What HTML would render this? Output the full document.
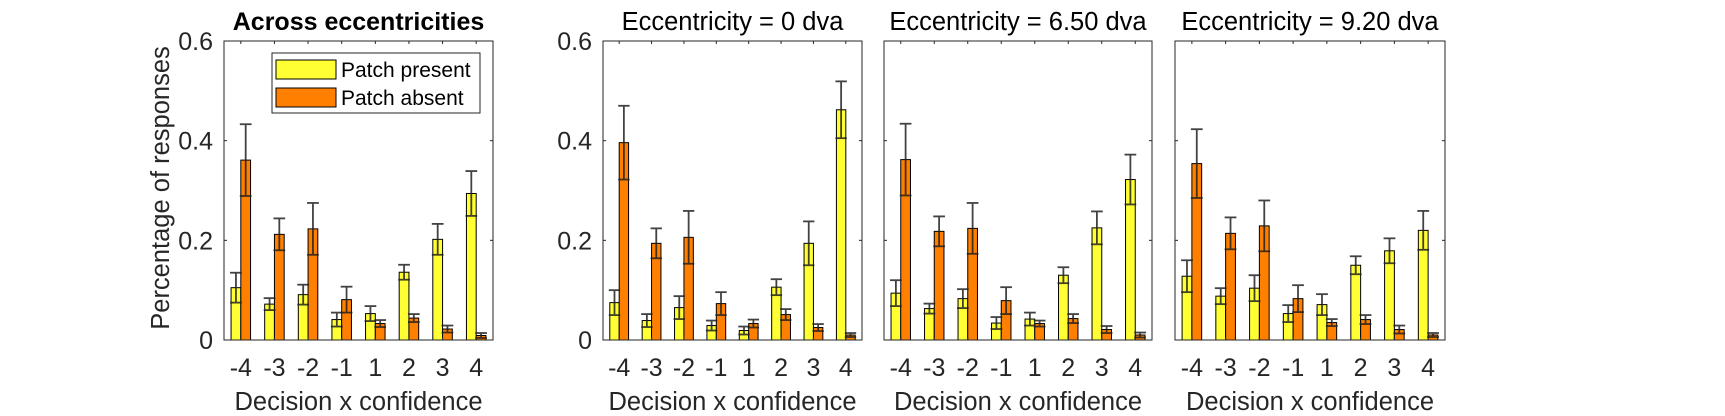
<!DOCTYPE html>
<html><head><meta charset="utf-8"><style>
html,body{margin:0;padding:0;background:#fff}
svg{display:block;font-family:"Liberation Sans",Arial,sans-serif}
</style></head><body>
<svg id="chart" width="1725" height="416" viewBox="0 0 1725 416" xmlns="http://www.w3.org/2000/svg"></svg>
<script>
const categories = ["-4","-3","-2","-1","1","2","3","4"];
const yTicks = [0, 0.2, 0.4, 0.6];
const yTickLabels = ["0","0.2","0.4","0.6"];
const panelTitles = ["Across eccentricities","Eccentricity = 0 dva","Eccentricity = 6.50 dva","Eccentricity = 9.20 dva"];
const presentP1 = [0.105,0.072,0.091,0.041,0.053,0.136,0.202,0.294];
const presentErrP1 = [0.030,0.012,0.020,0.014,0.015,0.015,0.031,0.045];
const absentP1 = [0.361,0.212,0.223,0.081,0.033,0.044,0.022,0.009];
const absentErrP1 = [0.072,0.032,0.052,0.026,0.007,0.008,0.007,0.005];
const presentP2 = [0.075,0.039,0.065,0.029,0.019,0.106,0.194,0.462];
const presentErrP2 = [0.025,0.013,0.023,0.010,0.008,0.016,0.044,0.057];
const absentP2 = [0.396,0.194,0.206,0.073,0.033,0.051,0.025,0.010];
const absentErrP2 = [0.074,0.030,0.053,0.023,0.008,0.011,0.007,0.004];
const presentP3 = [0.094,0.063,0.083,0.034,0.042,0.130,0.225,0.322];
const presentErrP3 = [0.026,0.010,0.019,0.012,0.013,0.016,0.033,0.050];
const absentP3 = [0.362,0.218,0.224,0.079,0.033,0.043,0.021,0.010];
const absentErrP3 = [0.072,0.030,0.051,0.027,0.006,0.009,0.007,0.005];
const presentP4 = [0.128,0.088,0.104,0.053,0.071,0.150,0.179,0.220];
const presentErrP4 = [0.032,0.016,0.026,0.017,0.021,0.018,0.025,0.039];
const absentP4 = [0.354,0.214,0.229,0.083,0.035,0.041,0.021,0.010];
const absentErrP4 = [0.069,0.032,0.051,0.027,0.007,0.009,0.008,0.004];

const panelsPresent=[presentP1,presentP2,presentP3,presentP4];
const panelsPresentErr=[presentErrP1,presentErrP2,presentErrP3,presentErrP4];
const panelsAbsent=[absentP1,absentP2,absentP3,absentP4];
const panelsAbsentErr=[absentErrP1,absentErrP2,absentErrP3,absentErrP4];
const boxes=[[224,493],[603,862],[884,1152],[1175,1445]];
const TOP=41,BOT=340,YMAX=0.6;
const NS="http://www.w3.org/2000/svg";
const svg=document.getElementById('chart');
function mk(tag,attrs,parent){const e=document.createElementNS(NS,tag);for(const k in attrs)e.setAttribute(k,attrs[k]);(parent||svg).appendChild(e);return e;}
function yScale(v){return BOT-(v/YMAX)*(BOT-TOP);}

boxes.forEach((b,p)=>{
  const g=mk('g',{});
  
  
  const L=b[0],R=b[1],n=categories.length,cw=(R-L)/n;
  const xScale=i=>L+cw*(i+0.5);
  const bw=cw*0.29;
  const t=mk('text',{x:(L+R)/2,y:30,'text-anchor':'middle','font-size':p===0?25:25.5,'font-weight':p===0?'bold':'normal',fill:'#000'},g);
  t.textContent=panelTitles[p];
  
  
  const series=[[panelsPresent[p],panelsPresentErr[p],'#ffff33',-1,'present'],[panelsAbsent[p],panelsAbsentErr[p],'#ff8000',0,'absent']];
  series.forEach(s=>{
    s[0].forEach((v,i)=>{
      const x=xScale(i)+s[3]*bw;
      const r=mk('rect',{x:x,y:yScale(v),width:bw,height:BOT-yScale(v),fill:s[2],stroke:'#000','stroke-width':1},g);
      
      
    });
  });
  series.forEach(s=>{
    s[0].forEach((v,i)=>{
      const cx=xScale(i)+s[3]*bw+bw/2,e=s[1][i];
      const eg=mk('g',{stroke:'#222','stroke-width':1.8,opacity:0.85},g);
      
      
      mk('line',{x1:cx,x2:cx,y1:yScale(v+e),y2:yScale(Math.max(0,v-e))},eg);
      mk('line',{x1:cx-bw/2-1,x2:cx+bw/2+1,y1:yScale(v+e),y2:yScale(v+e)},eg);
      mk('line',{x1:cx-bw/2-1,x2:cx+bw/2+1,y1:yScale(Math.max(0,v-e)),y2:yScale(Math.max(0,v-e))},eg);
    });
  });
  const ax=mk('rect',{x:L,y:TOP,width:R-L,height:BOT-TOP,fill:'none',stroke:'#262626','stroke-width':1},g);
  
  
  categories.forEach((c,i)=>{
    const x=xScale(i);
    mk('line',{x1:x,x2:x,y1:BOT,y2:BOT-3,stroke:'#262626'},g);
    mk('line',{x1:x,x2:x,y1:TOP,y2:TOP+3,stroke:'#262626'},g);
    const tl=mk('text',{x:x,y:376,'text-anchor':'middle','font-size':25,fill:'#262626'},g);
    tl.textContent=c;
    
    
  });
  yTicks.forEach((v,i)=>{
    const y=yScale(v);
    mk('line',{x1:L,x2:L+3,y1:y,y2:y,stroke:'#262626'},g);
    mk('line',{x1:R,x2:R-3,y1:y,y2:y,stroke:'#262626'},g);
    if(p<2){
      const yl=mk('text',{x:L-11,y:y+9,'text-anchor':'end','font-size':25,fill:'#262626'},g);
      yl.textContent=yTickLabels[i];
      
      
    }
  });
  const xl=mk('text',{x:(L+R)/2,y:410,'text-anchor':'middle','font-size':25.5,fill:'#262626'},g);
  xl.textContent='Decision x confidence';
  
  
});
const ylab=mk('text',{x:0,y:0,'text-anchor':'middle','font-size':25.5,fill:'#262626',transform:'translate(169,188) rotate(-90)'});
ylab.textContent='Percentage of responses';


const lg=mk('g',{});


mk('rect',{x:272,y:53,width:208,height:60,fill:'#fff',stroke:'#262626','stroke-width':1},lg);
const le=[['Patch present','#ffff33',60],['Patch absent','#ff8000',88]];
le.forEach(d=>{
  const eg=mk('g',{},lg);
  
  
  mk('rect',{x:276,y:d[2],width:60,height:19,fill:d[1],stroke:'#000'},eg);
  const tx=mk('text',{x:341,y:d[2]+17,'font-size':21,fill:'#000'},eg);
  tx.textContent=d[0];
});
</script>
</body></html>
